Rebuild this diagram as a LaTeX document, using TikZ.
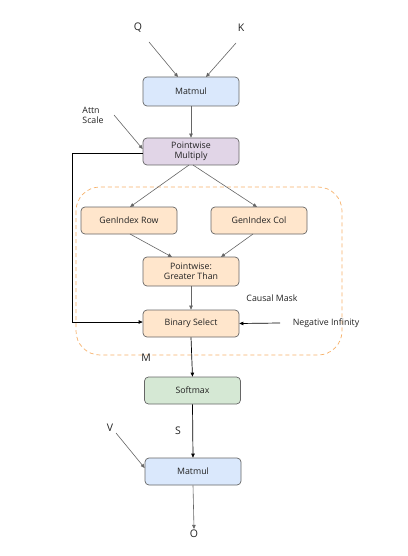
\documentclass[tikz,border=0pt]{standalone}
\usepackage{fontspec}
\setmainfont{Open Sans}
\usetikzlibrary{arrows.meta}
\definecolor{bluef}{HTML}{DAE8FC}
\definecolor{purpf}{HTML}{E1D5E7}
\definecolor{orangef}{HTML}{FFE6CC}
\definecolor{greenf}{HTML}{D5E8D4}
\definecolor{edge}{HTML}{666666}
\definecolor{dashc}{HTML}{F7B26B}
\definecolor{txt}{HTML}{222222}
\begin{document}
\begin{tikzpicture}[x=1pt,y=-1pt,
  opbox/.style={draw=edge, line width=0.7pt, rounded corners=4pt, minimum width=96pt, minimum height=28pt, align=center, font=\fontsize{8.8}{10}\selectfont, text=txt, inner sep=1pt},
  lbl/.style={font=\fontsize{8.8}{10}\selectfont, align=left, text=txt, inner sep=1pt},
  big/.style={font=\fontsize{10.5}{12}\selectfont, text=txt, inner sep=1pt},
  garr/.style={draw=edge, line width=0.6pt, -{Triangle[length=4pt,width=3.5pt]}},
  barr/.style={draw=black, line width=0.7pt, -{Triangle[length=4pt,width=3.5pt]}}
]
\useasboundingbox (0,0) rectangle (407,556);
\fill[white] (0,0) rectangle (407,556);
% causal mask region
\draw[dashc, line width=0.7pt, dash pattern=on 4pt off 3pt, rounded corners=24pt] (76,187) rectangle (342,355);

\node[opbox, fill=bluef, minimum height=29pt] (mm1) at (191,91.5) {Matmul};
\node[opbox, fill=purpf, minimum height=27pt] (pm) at (191,151.5) {Pointwise\\Multiply};
\node[opbox, fill=orangef, minimum height=27pt] (gr) at (129,220.5) {GenIndex Row};
\node[opbox, fill=orangef, minimum height=27pt] (gc) at (259,220.5) {GenIndex Col};
\node[opbox, fill=orangef, minimum height=29pt] (gt) at (191,271.5) {Pointwise:\\Greater Than};
\node[opbox, fill=orangef, minimum height=27pt] (bs) at (191,323.5) {Binary Select};
\node[opbox, fill=greenf, minimum height=27pt] (sm) at (192.5,390.5) {Softmax};
\node[opbox, fill=bluef, minimum height=27pt] (mm2) at (193,471.5) {Matmul};

\node[big] (q) at (138,28) {Q};
\node[big] (k) at (241,28) {K};
\node[big] (o) at (194,534) {O};
\node[big] (v) at (110,428) {V};
\node[big] (s) at (178,431) {S};
\node[big] (m) at (146,358) {M};
\node[lbl] (attn) at (93,115) {Attn\\Scale};
\node[lbl] (cm) at (272,298) {Causal Mask};
\node[lbl] (ninf) at (326,323) {Negative Infinity};

\coordinate (qs) at (149,42);
\coordinate (ks) at (236,43);
\coordinate (as) at (114,115);
\coordinate (vs) at (116,433);
\coordinate (ns) at (280,323);
\coordinate (fb1) at (72,153);
\coordinate (fb2) at (72,322);

\draw[garr] (qs) -- (178,77);
\draw[garr] (ks) -- (206,77);
\draw[garr] (mm1.south) -- (pm.north);
\draw[garr] (as) -- (pm.west |- 0,149);
\draw[garr] (189,165) -- (130,207);
\draw[garr] (193,165) -- (257,207);
\draw[garr] (130,234) -- (172,257);
\draw[garr] (253,234) -- (221,257);
\draw[garr] (gt.south) -- (bs.north);
\draw[barr] (pm.west |- fb1) -- (fb1) -- (fb2) -- (bs.west |- fb2);
\draw[barr] (ns) -- (bs.east);
\draw[barr] (bs.south) -- (sm.north);
\draw[barr] (sm.south) -- (mm2.north);
\draw[garr] (vs) -- (mm2.west |- 0,468);
\draw[garr] (mm2.south) -- (o.north);
\end{tikzpicture}
\end{document}
